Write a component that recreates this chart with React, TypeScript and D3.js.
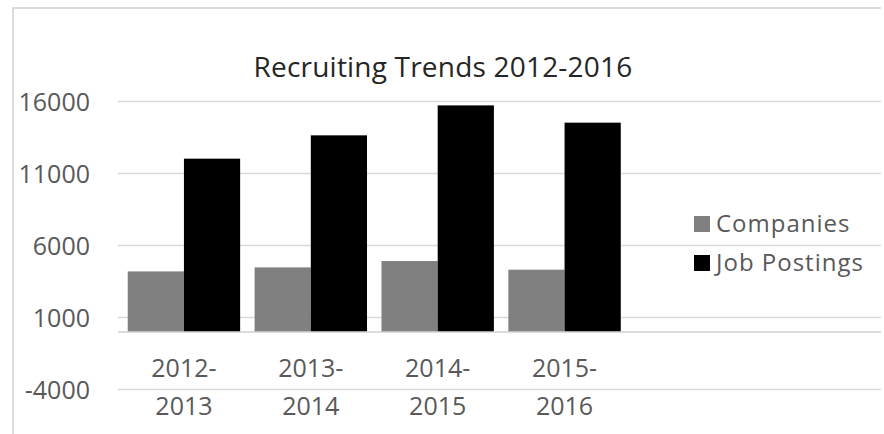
import React from "react";
import * as d3 from "d3";

const categories = ["2012-2013", "2013-2014", "2014-2015", "2015-2016"];
const seriesNames = ["Companies", "Job Postings"];
const companies = [4200, 4480, 4920, 4320];
const jobPostings = [12030, 13650, 15730, 14530];
const yTicks = [-4000, 1000, 6000, 11000, 16000];
const title = "Recruiting Trends 2012-2016";
const colors = ["#808080", "#000000"];

const W = 884;
const H = 434;
const FONT = "'Open Sans', 'DejaVu Sans', sans-serif";

export default function App() {
  const y = d3.scaleLinear().domain([-4000, 16000]).range([389.5, 101.5]);
  const x0 = d3
    .scaleBand<string>()
    .domain(categories)
    .range([120.5, 628])
    .paddingInner(0.114)
    .paddingOuter(0.057);
  const x1 = d3
    .scaleBand<string>()
    .domain(seriesNames)
    .range([0, x0.bandwidth()])
    .padding(0);
  const series = [companies, jobPostings];
  const gridX0 = 118;
  const gridX1 = 881;

  return (
    <svg
      width={W}
      height={H}
      style={{ position: "absolute", left: 0, top: 0, background: "#fff" }}
    >
      <rect x={0} y={0} width={W} height={H} fill="#fff" />
      {/* chart border */}
      <line x1={12} x2={gridX1} y1={8} y2={8} stroke="#dcdcdc" strokeWidth={2} />
      <line x1={13} x2={13} y1={7} y2={H} stroke="#dcdcdc" strokeWidth={2} />

      <text
        x={443}
        y={77}
        textAnchor="middle"
        fontFamily={FONT}
        fontSize={28}
        fill="#262626"
        letterSpacing={0.2}
      >
        {title}
      </text>

      {/* gridlines */}
      {yTicks.map((t) => (
        <line
          key={t}
          x1={gridX0}
          x2={gridX1}
          y1={y(t)}
          y2={y(t)}
          stroke="#d9d9d9"
          strokeWidth={1.5}
        />
      ))}
      {/* y labels */}
      {yTicks.map((t) => (
        <text
          key={"l" + t}
          x={90}
          y={y(t)}
          dy="0.36em"
          textAnchor="end"
          fontFamily={FONT}
          fontSize={25}
          fill="#595959"
        >
          {t}
        </text>
      ))}

      {/* bars */}
      {categories.map((c, i) => (
        <g key={c} transform={`translate(${x0(c)},0)`}>
          {seriesNames.map((s, j) => {
            const v = series[j][i];
            return (
              <rect
                key={s}
                x={x1(s)}
                y={y(Math.max(0, v))}
                width={x1.bandwidth()}
                height={Math.abs(y(v) - y(0))}
                fill={colors[j]}
              />
            );
          })}
        </g>
      ))}

      {/* horizontal axis at 0 */}
      <line
        x1={gridX0}
        x2={gridX1}
        y1={y(0)}
        y2={y(0)}
        stroke="#d0d0d0"
        strokeWidth={1.5}
      />

      {/* category labels */}
      {categories.map((c) => {
        const cx = (x0(c) as number) + x0.bandwidth() / 2;
        const [a, b] = c.split("-");
        return (
          <text
            key={"c" + c}
            textAnchor="middle"
            fontFamily={FONT}
            fontSize={25}
            fill="#595959"
          >
            <tspan x={cx} y={377}>
              {a + "-"}
            </tspan>
            <tspan x={cx} y={415}>
              {b}
            </tspan>
          </text>
        );
      })}

      {/* legend */}
      {seriesNames.map((s, j) => (
        <g key={"lg" + s} transform={`translate(694,${216 + j * 39})`}>
          <rect x={0} y={0} width={16} height={16} fill={colors[j]} />
          <text
            x={22}
            y={15.5}
            fontFamily={FONT}
            fontSize={24}
            fill="#595959"
            letterSpacing={1}
          >
            {s}
          </text>
        </g>
      ))}
    </svg>
  );
}
